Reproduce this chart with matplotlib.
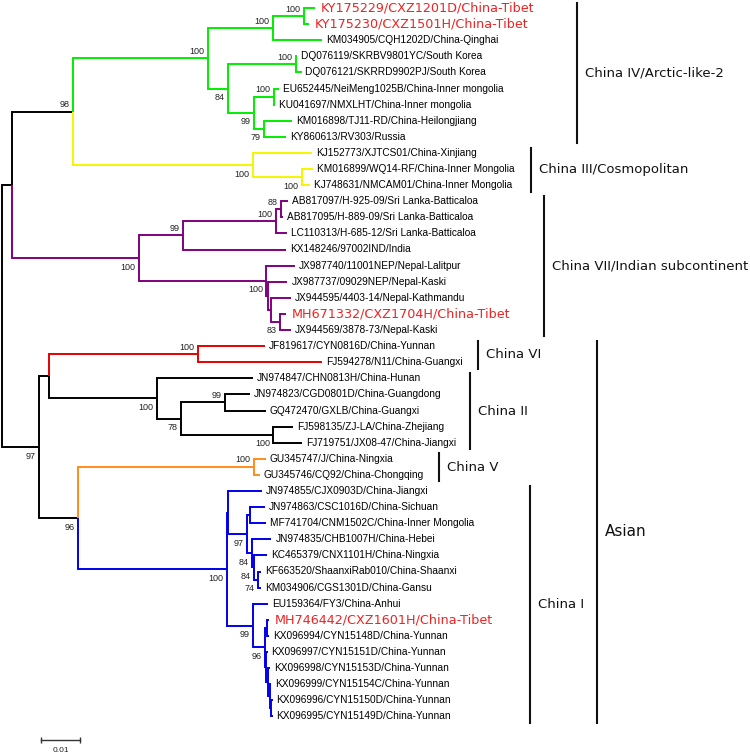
import matplotlib.pyplot as plt

# tree in newick form: leaves are 1-based indices into LEAF_LABELS,
# internal labels are bootstrap values, branch lengths in substitutions/site
TREE = (
    "((((((1:0.0028,2:0.0013)100:0.0079,3:0.0126)100:0.0167,"
    "((4:0.0003,5:0.0015)100:0.0174,((6:0.0013,7:0.0003)100:0.0051,"
    "(8:0.0072,9:0.0056)79:0.0026)99:0.0067)84:0.0051)100:0.0346,"
    "(10:0.0151,(11:0.0028,12:0.0021)100:0.0126)100:0.0462)98:0.0156,"
    "((((13:0.0018,14:0.0005)88:0.0013,15:0.0028)100:0.0238,16:0.0264)99:0.0113,"
    "(17:0.0074,(18:0.0051,(19:0.0049,(20:0.0015,21:0.0026)83:0.0023):0.0010):0.0003)100:0.0326)100:0.0326):0.0026,"
    "(((22:0.0172,23:0.0318)100:0.0382,"
    "(24:0.0246,((25:0.0064,26:0.0103)99:0.0113,(27:0.0051,28:0.0074)100:0.0236)78:0.0062)100:0.0277):0.0026,"
    "((29:0.0031,30:0.0015)100:0.0451,"
    "((31:0.0087,((32:0.0038,33:0.0041):0.0008,(34:0.0049,(35:0.0033,(36:0.0008,37:0.0008)74:0.0010)84:0.0005)84:0.0013)97:0.0049):0.0003,"
    "(38:0.0038,((39:0.0005,40:0.0005):0.0005,(41:0.0003,(42:0.0005,(43:0.0005,(44:0.0005,45:0.0005):0.0003):0.0003):0.0005):0.0003)96:0.0031)99:0.0067)100:0.0382)96:0.0100)97:0.0095);"
)

LEAF_LABELS = [
    "KY175229/CXZ1201D/China-Tibet", "KY175230/CXZ1501H/China-Tibet",
    "KM034905/CQH1202D/China-Qinghai", "DQ076119/SKRBV9801YC/South Korea",
    "DQ076121/SKRRD9902PJ/South Korea", "EU652445/NeiMeng1025B/China-Inner mongolia",
    "KU041697/NMXLHT/China-Inner mongolia", "KM016898/TJ11-RD/China-Heilongjiang",
    "KY860613/RV303/Russia", "KJ152773/XJTCS01/China-Xinjiang",
    "KM016899/WQ14-RF/China-Inner Mongolia", "KJ748631/NMCAM01/China-Inner Mongolia",
    "AB817097/H-925-09/Sri Lanka-Batticaloa", "AB817095/H-889-09/Sri Lanka-Batticaloa",
    "LC110313/H-685-12/Sri Lanka-Batticaloa", "KX148246/97002IND/India",
    "JX987740/11001NEP/Nepal-Lalitpur", "JX987737/09029NEP/Nepal-Kaski",
    "JX944595/4403-14/Nepal-Kathmandu", "MH671332/CXZ1704H/China-Tibet",
    "JX944569/3878-73/Nepal-Kaski", "JF819617/CYN0816D/China-Yunnan",
    "FJ594278/N11/China-Guangxi", "JN974847/CHN0813H/China-Hunan",
    "JN974823/CGD0801D/China-Guangdong", "GQ472470/GXLB/China-Guangxi",
    "FJ598135/ZJ-LA/China-Zhejiang", "FJ719751/JX08-47/China-Jiangxi",
    "GU345747/J/China-Ningxia", "GU345746/CQ92/China-Chongqing",
    "JN974855/CJX0903D/China-Jiangxi", "JN974863/CSC1016D/China-Sichuan",
    "MF741704/CNM1502C/China-Inner Mongolia", "JN974835/CHB1007H/China-Hebei",
    "KC465379/CNX1101H/China-Ningxia", "KF663520/ShaanxiRab010/China-Shaanxi",
    "KM034906/CGS1301D/China-Gansu", "EU159364/FY3/China-Anhui",
    "MH746442/CXZ1601H/China-Tibet", "KX096994/CYN15148D/China-Yunnan",
    "KX096997/CYN15151D/China-Yunnan", "KX096998/CYN15153D/China-Yunnan",
    "KX096999/CYN15154C/China-Yunnan", "KX096996/CYN15150D/China-Yunnan",
    "KX096995/CYN15149D/China-Yunnan",
]

# leaves sequenced in this study (shown in red)
TIBET_LEAVES = [1, 2, 20, 39]

# branch colours: (first leaf, last leaf) of the clade, colour
CLADE_COLORS = [
    (1, 9, "#00ee00"),
    (10, 12, "#f5f500"),
    (13, 21, "#800080"),
    (22, 23, "#e60000"),
    (29, 30, "#ff8c1a"),
    (31, 45, "#0000ee"),
]

# lineage brackets: name, first leaf, last leaf
GROUP_NAMES = ["China IV/Arctic-like-2", "China III/Cosmopolitan",
               "China VII/Indian subcontinent", "China VI", "China II",
               "China V", "China I", "Asian"]
GROUP_FIRST = [1, 10, 13, 22, 24, 29, 31, 22]
GROUP_LAST = [9, 12, 21, 23, 28, 30, 45, 45]


def parse_newick(s):
    s = s.strip().rstrip(";")
    pos = 0

    def node():
        nonlocal pos
        n = {"children": [], "label": "", "length": 0.0}
        if s[pos] == "(":
            pos += 1
            n["children"].append(node())
            while s[pos] == ",":
                pos += 1
                n["children"].append(node())
            pos += 1
        start = pos
        while pos < len(s) and s[pos] not in ":,)":
            pos += 1
        n["label"] = s[start:pos]
        if pos < len(s) and s[pos] == ":":
            pos += 1
            start = pos
            while pos < len(s) and s[pos] not in ",)":
                pos += 1
            n["length"] = float(s[start:pos])
        return n

    return node()


def layout(n, x0=0.0):
    n["x"] = x0 + n["length"]
    if not n["children"]:
        n["leaf"] = int(n["label"])
        n["y"] = n["leaf"] - 1
        n["span"] = (n["leaf"], n["leaf"])
        return
    for c in n["children"]:
        layout(c, n["x"])
    n["y"] = (n["children"][0]["y"] + n["children"][-1]["y"]) / 2
    n["span"] = (n["children"][0]["span"][0], n["children"][-1]["span"][1])


def set_colors(n, color="black"):
    for first, last, c in CLADE_COLORS:
        if n["span"] == (first, last):
            color = c
    n["color"] = color
    for c in n["children"]:
        set_colors(c, color)


root = parse_newick(TREE)
layout(root)
set_colors(root)

# page geometry: 39 px per 0.01 subst./site, leaves 16.1 px apart
PX_PER_UNIT = 3900.0
LEAF_STEP = 16.1
W, H = 750, 753


def px(xpix):
    return (xpix - 2) / PX_PER_UNIT


def py(ypix):
    return (ypix - 8) / LEAF_STEP


fig = plt.figure(figsize=(W / 100, H / 100), dpi=100)
ax = fig.add_axes([0, 0, 1, 1])
ax.set_xlim(px(0), px(W))
ax.set_ylim(py(H), py(0))
ax.axis("off")

boot_font = dict(family="Liberation Sans", fontsize=6.5, color="#222222")


def draw(n):
    for i, c in enumerate(n["children"]):
        ax.plot([n["x"], n["x"], c["x"]], [n["y"], c["y"], c["y"]],
                color=c["color"], lw=1.4, solid_joinstyle="miter",
                solid_capstyle="butt")
        if c["children"] and c["label"]:
            dy = 5 if i == 0 else -6.5
            ax.annotate(c["label"], (c["x"], c["y"]), xytext=(-2.5, dy),
                        textcoords="offset points", ha="right", va="center",
                        **boot_font)
        draw(c)
    if not n["children"]:
        name = LEAF_LABELS[n["leaf"] - 1]
        if n["leaf"] in TIBET_LEAVES:
            ax.annotate(name, (n["x"], n["y"]), xytext=(4, 0),
                        textcoords="offset points", va="center",
                        family="DejaVu Sans", fontsize=9.2, color="#ee2222")
        else:
            ax.annotate(name, (n["x"], n["y"]), xytext=(2.8, 0),
                        textcoords="offset points", va="center",
                        family="Liberation Sans", fontsize=7.3, color="black")


draw(root)

# bracket positions (pixels) for the lineage labels
bracket_x = [577, 531, 544, 478, 470, 439, 530, 597]
for name, f, l, bx in zip(GROUP_NAMES, GROUP_FIRST, GROUP_LAST, bracket_x):
    y0, y1 = f - 1 - 0.33, l - 1 + 0.4
    ax.plot([px(bx), px(bx)], [max(y0, py(0)), y1], color="#111111", lw=1.5)
    size = 11 if name == "Asian" else 9.5
    ax.text(px(bx + 8), (y0 + y1) / 2, name, va="center", ha="left",
            family="DejaVu Sans", fontsize=size, color="#111111")

# scale bar
ax.plot([px(41), px(41) + 0.01], [py(740), py(740)], color="#333333", lw=1,
        marker="|", markersize=5, markeredgewidth=1)
ax.text(px(41) + 0.005, py(751), "0.01", ha="center", va="center",
        family="Liberation Sans", fontsize=6, color="#222222")

fig.savefig("out.png", dpi=100)
